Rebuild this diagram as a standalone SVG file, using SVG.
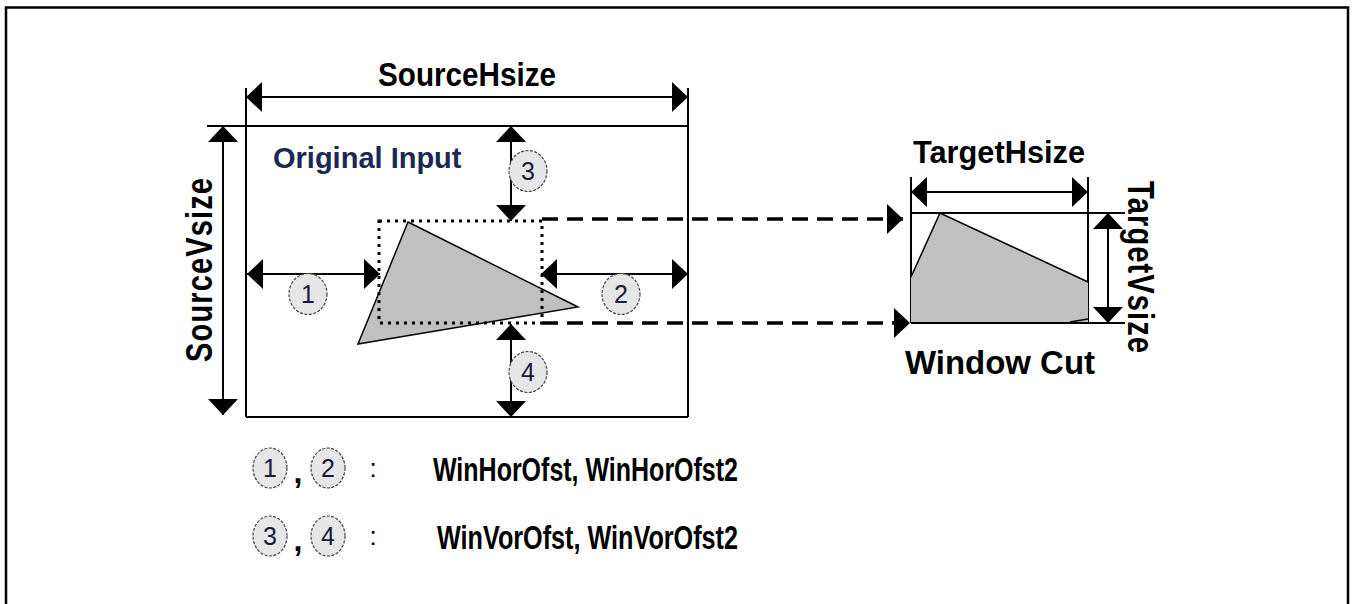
<svg xmlns="http://www.w3.org/2000/svg" width="1353" height="604" viewBox="0 0 1353 604">
<defs>
<marker id="ah" viewBox="0 0 16 30" refX="16" refY="15" markerWidth="16" markerHeight="30" markerUnits="userSpaceOnUse" orient="auto-start-reverse"><path d="M0,0 L16,15 L0,30 z" fill="#000"/></marker>
<style>
.ln{stroke:#000;stroke-width:2;fill:none}
.dim{stroke:#000;stroke-width:2;fill:none;marker-start:url(#ah);marker-end:url(#ah)}
.dash{stroke:#000;stroke-width:3.5;fill:none;stroke-dasharray:16 9;marker-end:url(#ah)}
.dot{stroke:#000;stroke-width:3;fill:none;stroke-dasharray:3 5}
.shape{fill:#c0c0c0;stroke:#000;stroke-width:1.5}
.num{fill:#e6e6e6;stroke:#444;stroke-width:1.2;stroke-dasharray:3 1.5}
.dig{font-family:"Liberation Sans",Arial,sans-serif;font-size:25px;fill:#1a1a3a;text-anchor:middle}
.lbl{font-family:"Liberation Sans",Arial,sans-serif;font-weight:bold;fill:#000}
</style>
</defs>
<rect width="1353" height="604" fill="#fff"/>
<path d="M6,604 V7.5 H1348 V604" fill="none" stroke="#000" stroke-width="2.5"/>

<g id="source-frame">
<path class="ln" d="M207,126 H688 M246,88 V417 M688,88 V417 M246,417 H688"/>
<text class="lbl" x="273" y="168" font-size="29" style="fill:#1b2754">Original Input</text>
</g>

<g id="source-triangle">
<polygon class="shape" points="408,222 578,307 358,344"/>
</g>

<g id="window-rect">
<rect class="dot" x="379" y="221" width="163" height="102"/>
</g>

<g id="target-frame">
<path class="ln" d="M911,177 V323 M1088,177 V323 M911,213 H1125 M911,323 H1125"/>
<polygon points="911,277 940,213 1088,282 1088,322 911,322" fill="#c0c0c0"/>
<polyline points="911,277 940,213 1088,282" fill="none" stroke="#000" stroke-width="1.5"/>
<line x1="1070" y1="322" x2="1088" y2="319" stroke="#000" stroke-width="1.5"/>
<text class="lbl" x="1000" y="374" font-size="33" text-anchor="middle" textLength="190" lengthAdjust="spacingAndGlyphs">Window Cut</text>
</g>

<g id="connectors">
<line class="dim" x1="246" y1="97" x2="688" y2="97"/>
<line class="dim" x1="223" y1="126" x2="223" y2="415"/>
<line class="dim" x1="511" y1="126" x2="511" y2="221"/>
<line class="dim" x1="511" y1="324" x2="511" y2="417"/>
<line class="dim" x1="247" y1="274" x2="380" y2="274"/>
<line class="dim" x1="541" y1="274" x2="688" y2="274"/>
<line class="dim" x1="911" y1="192" x2="1088" y2="192"/>
<line class="dim" x1="1108" y1="213" x2="1108" y2="323"/>
<line class="dash" x1="542" y1="219" x2="903" y2="219"/>
<line class="dash" x1="542" y1="323" x2="910" y2="323"/>
</g>

<g id="label-source-hsize"><text class="lbl" x="467" y="86" font-size="33" text-anchor="middle" textLength="178" lengthAdjust="spacingAndGlyphs">SourceHsize</text></g>
<g id="label-source-vsize"><text class="lbl" font-size="29" text-anchor="middle" textLength="184" lengthAdjust="spacing" transform="translate(212,270) rotate(-90) scale(1,1.3)">SourceVsize</text></g>
<g id="label-target-hsize"><text class="lbl" x="999" y="163" font-size="32" text-anchor="middle" textLength="172" lengthAdjust="spacingAndGlyphs">TargetHsize</text></g>
<g id="label-target-vsize"><text class="lbl" font-size="29" text-anchor="middle" textLength="172" lengthAdjust="spacing" transform="translate(1128,267) rotate(90) scale(1,1.3)">TargetVsize</text></g>

<g id="marker-1"><ellipse class="num" cx="308" cy="294" rx="19" ry="20.5"/><text class="dig" x="308" y="303">1</text></g>
<g id="marker-2"><ellipse class="num" cx="621" cy="294" rx="19" ry="20.5"/><text class="dig" x="621" y="303">2</text></g>
<g id="marker-3"><ellipse class="num" cx="528" cy="171" rx="19" ry="20.5"/><text class="dig" x="528" y="180">3</text></g>
<g id="marker-4"><ellipse class="num" cx="528" cy="372" rx="19" ry="20.5"/><text class="dig" x="528" y="381">4</text></g>

<g id="legend">
<ellipse class="num" cx="270" cy="468" rx="17" ry="20"/><text class="dig" x="270" y="477">1</text>
<text class="lbl" x="298" y="483" font-size="32" text-anchor="middle">,</text>
<ellipse class="num" cx="328" cy="468" rx="17" ry="20"/><text class="dig" x="328" y="477">2</text>
<text x="373" y="477" font-family="Liberation Sans,Arial,sans-serif" font-size="26" text-anchor="middle">:</text>
<text class="lbl" x="433" y="481" font-size="34" textLength="305" lengthAdjust="spacingAndGlyphs">WinHorOfst, WinHorOfst2</text>
<ellipse class="num" cx="270" cy="536" rx="17" ry="20"/><text class="dig" x="270" y="545">3</text>
<text class="lbl" x="298" y="551" font-size="32" text-anchor="middle">,</text>
<ellipse class="num" cx="328" cy="536" rx="17" ry="20"/><text class="dig" x="328" y="545">4</text>
<text x="373" y="545" font-family="Liberation Sans,Arial,sans-serif" font-size="26" text-anchor="middle">:</text>
<text class="lbl" x="437" y="549" font-size="34" textLength="301" lengthAdjust="spacingAndGlyphs">WinVorOfst, WinVorOfst2</text>
</g>
</svg>
